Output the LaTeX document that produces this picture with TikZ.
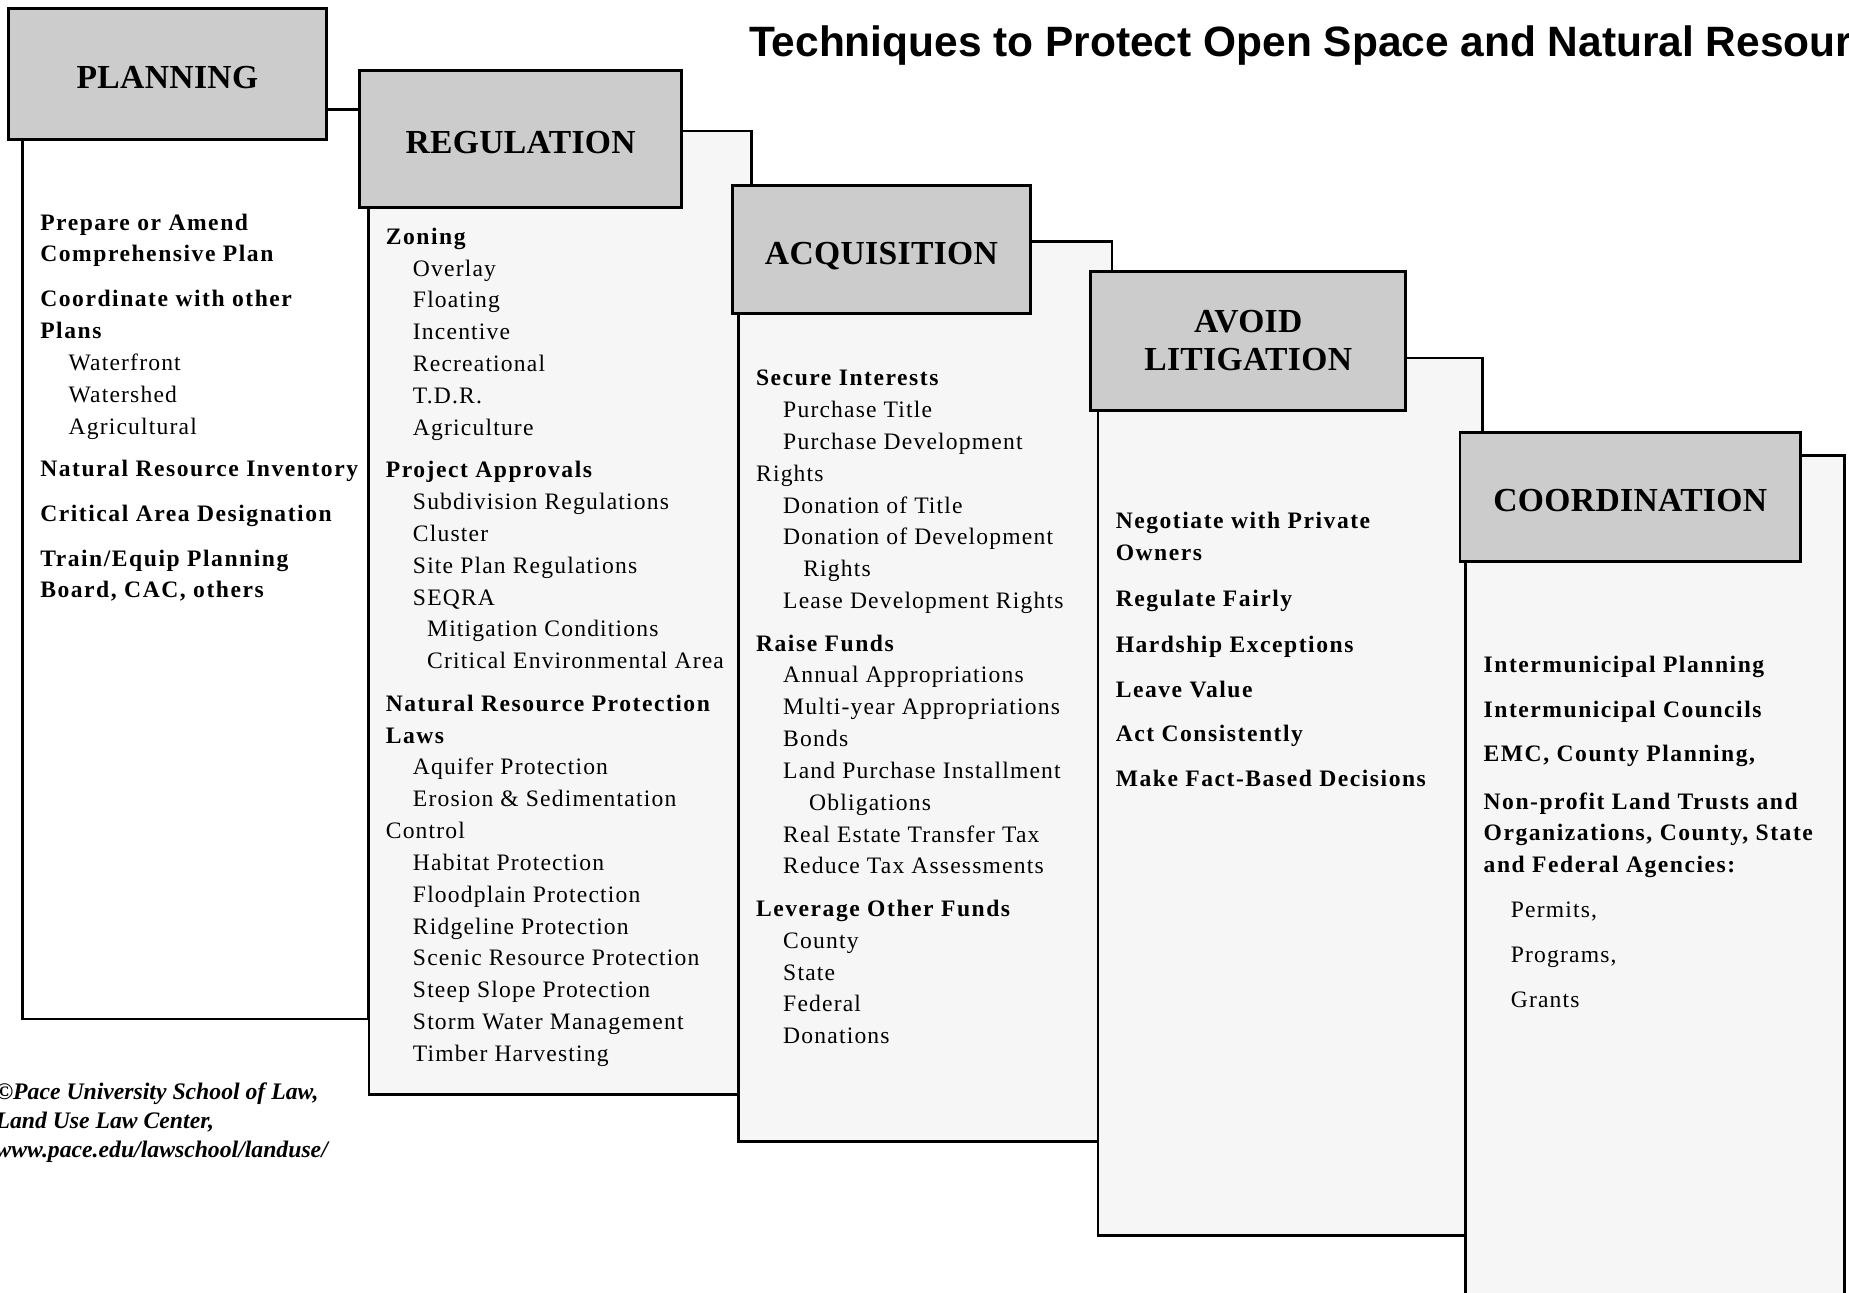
\documentclass[tikz,border=0pt]{standalone}
\usepackage{fontspec}
\setmainfont{Liberation Serif}[LetterSpace=5, BoldFeatures={LetterSpace=6.5}]
\newfontfamily\headfont{Liberation Serif}[LetterSpace=1]
\newfontfamily\notefont{Liberation Serif}
\newfontfamily\titlefont{Liberation Sans}
\definecolor{headgray}{HTML}{CCCCCC}
\definecolor{bodygray}{HTML}{F6F6F6}
\newcommand{\indnt}[1][23pt]{\hspace*{#1}}
\newcommand{\headlow}[1]{\raisebox{-3pt}[\height][0pt]{#1}}

\begin{document}
\begin{tikzpicture}[x=1pt, y=-1pt,
	head/.style={draw, line width=2.3pt, fill=headgray, inner sep=0pt, align=center,
		font=\headfont\bfseries\fontsize{28.5}{32}\selectfont},
	body/.style={draw, line width=2.3pt, fill=bodygray},
	items/.style={anchor=north west, inner sep=0pt, align=left,
		font=\fontsize{20}{27}\selectfont}]
		
		% Cornice della pagina
		\useasboundingbox (0,0) rectangle (1568,1096);
		\clip (0,0) rectangle (1568,1096);
		
		% Titolo
		\node[anchor=base west, inner sep=0pt, font=\titlefont\bfseries\fontsize{36}{40}\selectfont] (title) at (635,48) {Techniques to Protect Open Space and Natural Resour};
		
		% 1. Pianificazione
		\draw[body, fill=white] (19,93) rectangle (312,864);
		\node[head, minimum width=270pt, minimum height=111pt] (plan) at (142,62.5) {\headlow{PLANNING}};
		\node[items] (plantxt) at (34,176) {\strut\textbf{Prepare or Amend}\\
			\textbf{Comprehensive Plan}\\[11pt]
			\textbf{Coordinate with other}\\
			\textbf{Plans}\\
			\indnt[24pt]Waterfront\\
			\indnt[24pt]Watershed\\
			\indnt[24pt]Agricultural\\[9pt]
			\textbf{Natural Resource Inventory}\\[11pt]
			\textbf{Critical Area Designation}\\[11pt]
			\textbf{Train/Equip Planning}\\
			\textbf{Board, CAC, others}};
		
		% 2. Regolamentazione
		\draw[body] (313,111) rectangle (637,928);
		\node[head, minimum width=273pt, minimum height=116pt] (regu) at (441.5,118) {\headlow{REGULATION}};
		\node[items] (regutxt) at (327,188) {\strut\textbf{Zoning}\\
			\indnt Overlay\\
			\indnt Floating\\
			\indnt Incentive\\
			\indnt Recreational\\
			\indnt T.D.R.\\
			\indnt Agriculture\\[9pt]
			\textbf{Project Approvals}\\
			\indnt Subdivision Regulations\\
			\indnt Cluster\\
			\indnt Site Plan Regulations\\
			\indnt SEQRA\\
			\indnt[35pt]Mitigation Conditions\\
			\indnt[35pt]Critical Environmental Area\\[9pt]
			\textbf{Natural Resource Protection}\\
			\textbf{Laws}\\
			\indnt Aquifer Protection\\
			\indnt Erosion \& Sedimentation\\
			Control\\
			\indnt Habitat Protection\\
			\indnt Floodplain Protection\\
			\indnt Ridgeline Protection\\
			\indnt Scenic Resource Protection\\
			\indnt Steep Slope Protection\\
			\indnt Storm Water Management\\
			\indnt Timber Harvesting};
		
		% 3. Acquisizione
		\draw[body] (626,205) rectangle (943,968);
		\node[head, minimum width=253pt, minimum height=109pt] (acqu) at (747.5,211.5) {\headlow{ACQUISITION}};
		\node[items] (acqutxt) at (641,308) {\strut\textbf{Secure Interests}\\
			\indnt Purchase Title\\
			\indnt Purchase Development\\
			Rights\\
			\indnt Donation of Title\\
			\indnt Donation of Development\\
			\indnt[40pt]Rights\\
			\indnt Lease Development Rights\\[9pt]
			\textbf{Raise Funds}\\
			\indnt Annual Appropriations\\
			\indnt Multi-year Appropriations\\
			\indnt Bonds\\
			\indnt Land Purchase Installment\\
			\indnt[45pt]Obligations\\
			\indnt Real Estate Transfer Tax\\
			\indnt Reduce Tax Assessments\\[9pt]
			\textbf{Leverage Other Funds}\\
			\indnt County\\
			\indnt State\\
			\indnt Federal\\
			\indnt Donations};
		
		% 4. Evitare il contenzioso
		\draw[body] (931,303.5) rectangle (1257,1048);
		\node[head, minimum width=267pt, minimum height=118pt] (avoid) at (1058.5,289) {AVOID\\LITIGATION};
		\node[items] (avoidtxt) at (946,429) {\strut\textbf{Negotiate with Private}\\
			\textbf{Owners}\\[12pt]
			\textbf{Regulate Fairly}\\[12pt]
			\textbf{Hardship Exceptions}\\[11pt]
			\textbf{Leave Value}\\[11pt]
			\textbf{Act Consistently}\\[11pt]
			\textbf{Make Fact-Based Decisions}};
		
		% 5. Coordinamento
		\draw[body] (1243,386.5) rectangle (1564,1120);
		\node[head, minimum width=289pt, minimum height=109pt] (coord) at (1382.5,421.5) {\headlow{COORDINATION}};
		\node[items] (coordtxt) at (1258,551) {\strut\textbf{Intermunicipal Planning}\\[11pt]
			\textbf{Intermunicipal Councils}\\[11pt]
			\textbf{EMC, County Planning,}\\[13pt]
			\textbf{Non-profit Land Trusts and}\\
			\textbf{Organizations, County, State}\\
			\textbf{and Federal Agencies:}\\[11pt]
			\indnt Permits,\\[11pt]
			\indnt Programs,\\[11pt]
			\indnt Grants};
		
		% Nota di copyright
		\node[anchor=north west, inner sep=0pt, align=left, font=\notefont\bfseries\itshape\fontsize{20.1}{24.5}\selectfont] (note) at (-4,915) {\strut ©Pace University School of Law,\\
			Land Use Law Center,\\
			www.pace.edu/lawschool/landuse/};
		
	\end{tikzpicture}
\end{document}
